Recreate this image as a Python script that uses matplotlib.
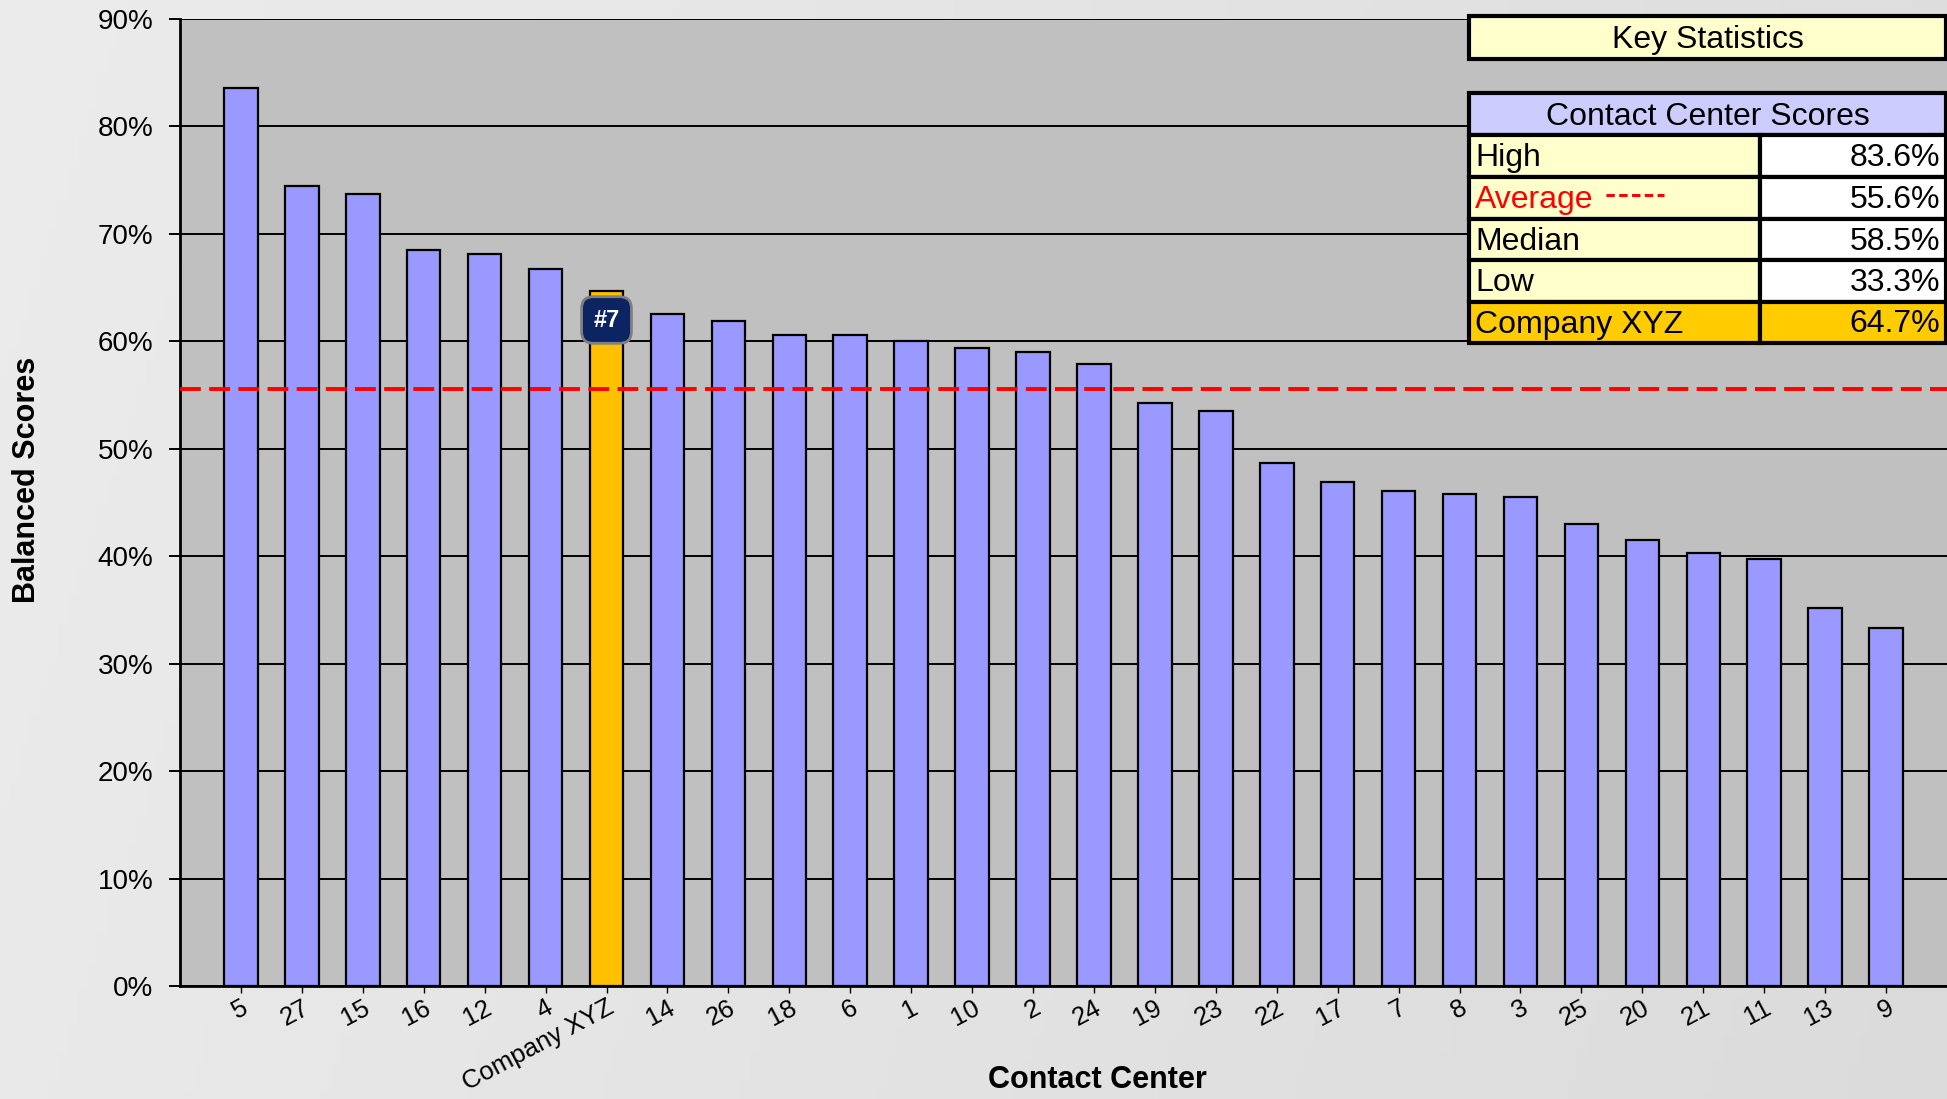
import numpy as np
import matplotlib
matplotlib.use("Agg")
import matplotlib.pyplot as plt
from matplotlib.patches import Rectangle
from matplotlib.lines import Line2D

plt.rcParams['font.family'] = ['Liberation Sans', 'DejaVu Sans']
plt.rcParams['lines.scale_dashes'] = False

# Contact center balanced scores (percent), sorted high to low
centers = ["5", "27", "15", "16", "12", "4", "Company XYZ", "14", "26", "18",
           "6", "1", "10", "2", "24", "19", "23", "22", "17", "7", "8", "3",
           "25", "20", "21", "11", "13", "9"]
scores = [83.6, 74.5, 73.7, 68.5, 68.1, 66.7, 64.7, 62.5, 61.9, 60.6,
          60.6, 60.0, 59.4, 59.0, 57.9, 54.3, 53.5, 48.7, 46.9, 46.1, 45.8, 45.5,
          43.0, 41.5, 40.3, 39.7, 35.2, 33.3]
highlight = "Company XYZ"

y_ticks = [0, 10, 20, 30, 40, 50, 60, 70, 80, 90]
y_tick_labels = ["0%", "10%", "20%", "30%", "40%", "50%", "60%", "70%", "80%", "90%"]

stat_labels = ["High", "Average", "Median", "Low", "Company XYZ"]

W, H = 1947, 1099
fig = plt.figure(figsize=(W / 100, H / 100), dpi=100)

# background gradient
gx = np.linspace(0, 1, 200)
gy = np.linspace(0, 1, 120)
GX, GY = np.meshgrid(gx, gy)
shade = 0.925 - 0.055 * GX - 0.01 * GY
bg = fig.add_axes([0, 0, 1, 1], zorder=-10)
bg.imshow(np.dstack([shade, shade, shade]), aspect='auto', extent=[0, 1, 0, 1])
bg.axis('off')

def fx(px):
    return px / W

def fy(py):
    return 1 - py / H

ax_l, ax_t, ax_b = 180, 19, 986
ax = fig.add_axes([fx(ax_l), fy(ax_b), 1 - fx(ax_l), (ax_b - ax_t) / H])
ax.set_facecolor('#C0C0C0')

x = np.arange(len(centers))
colors = ['#FFC000' if c == highlight else '#9999FF' for c in centers]
ax.bar(x, scores, width=0.55, color=colors, edgecolor='black', linewidth=1.6, zorder=3)

avg = float(np.mean(scores))
med = float(np.median(scores))
hi = max(scores)
lo = min(scores)
xyz = scores[centers.index(highlight)]

ax.axhline(avg, color='#FF0000', linewidth=2.8, dashes=(15, 6), zorder=4)

ax.set_xlim(-1, len(centers))
ax.set_ylim(0, 90)
ax.set_yticks(y_ticks)
ax.set_yticklabels(y_tick_labels)
ax.yaxis.grid(True, color='black', linewidth=1.4, zorder=1)
ax.set_axisbelow(True)
ax.set_xticks(x)
ax.set_xticklabels(centers, rotation=28, ha='right', va='top', rotation_mode='anchor')
ax.tick_params(axis='y', length=8, width=1.4, pad=11, labelsize=20, direction='out')
ax.tick_params(axis='x', length=5, width=1.0, pad=2, labelsize=18.5, direction='out')
for s in ['top', 'right']:
    ax.spines[s].set_visible(False)
ax.spines['left'].set_linewidth(2)
ax.spines['bottom'].set_linewidth(2)

# rank badge on the highlighted bar
rank = sorted(scores, reverse=True).index(xyz) + 1
ax.annotate(f"#{rank}", xy=(centers.index(highlight), xyz), xytext=(0, -21),
            textcoords='offset points', ha='center', va='center',
            fontsize=17, fontweight='bold', color='white', zorder=6,
            bbox=dict(boxstyle='round,pad=0.5,rounding_size=0.5',
                      fc='#0C2461', ec='#7F7F7F', lw=2))

fig.text(fx(27), fy(480), "Balanced Scores", rotation=90, ha='center', va='center',
         fontsize=22, fontweight='bold')
fig.text(fx(1097), fy(1080), "Contact Center", ha='center', va='center',
         fontsize=22, fontweight='bold')

# key statistics panel
def cell(x0, y0, x1, y1, fc, lw=3.0):
    fig.add_artist(Rectangle((fx(x0), fy(y1)), fx(x1 - x0), (y1 - y0) / H,
                             transform=fig.transFigure, fc=fc, ec='black',
                             lw=lw, zorder=10))

tx0, tx1, tmid = 1469, 1946, 1760
cell(tx0, 16, tx1, 59, '#FFFFCC')
fig.text(fx((tx0 + tx1) / 2), fy(40), "Key Statistics", ha='center', va='center',
         fontsize=23, zorder=11)

cell(tx0, 93, tx1, 135, '#CCCCFF')
fig.text(fx((tx0 + tx1) / 2), fy(117), "Contact Center Scores", ha='center', va='center',
         fontsize=23, zorder=11)

stat_values = [hi, avg, med, lo, xyz]
row_edges = [135, 177, 219, 260, 302, 343]
for i, (lab, val) in enumerate(zip(stat_labels, stat_values)):
    y0, y1 = row_edges[i], row_edges[i + 1]
    last = i == len(stat_labels) - 1
    cell(tx0, y0, tmid, y1, '#FFCC00' if last else '#FFFFCC')
    cell(tmid, y0, tx1, y1, '#FFCC00' if last else 'white')
    yc = (y0 + y1) / 2 + 2
    col = '#FF0000' if lab == "Average" else 'black'
    fig.text(fx(1475), fy(yc), lab, ha='left', va='center', fontsize=23,
             color=col, zorder=11)
    fig.text(fx(1940), fy(yc), f"{val:.1f}%", ha='right', va='center',
             fontsize=23, zorder=11)
    if lab == "Average":
        fig.add_artist(Line2D([fx(1606), fx(1664)], [fy(195), fy(195)],
                              transform=fig.transFigure, color='#FF0000',
                              lw=2.2, dashes=(6, 3.2), zorder=11))

fig.savefig("out.png", dpi=100)
